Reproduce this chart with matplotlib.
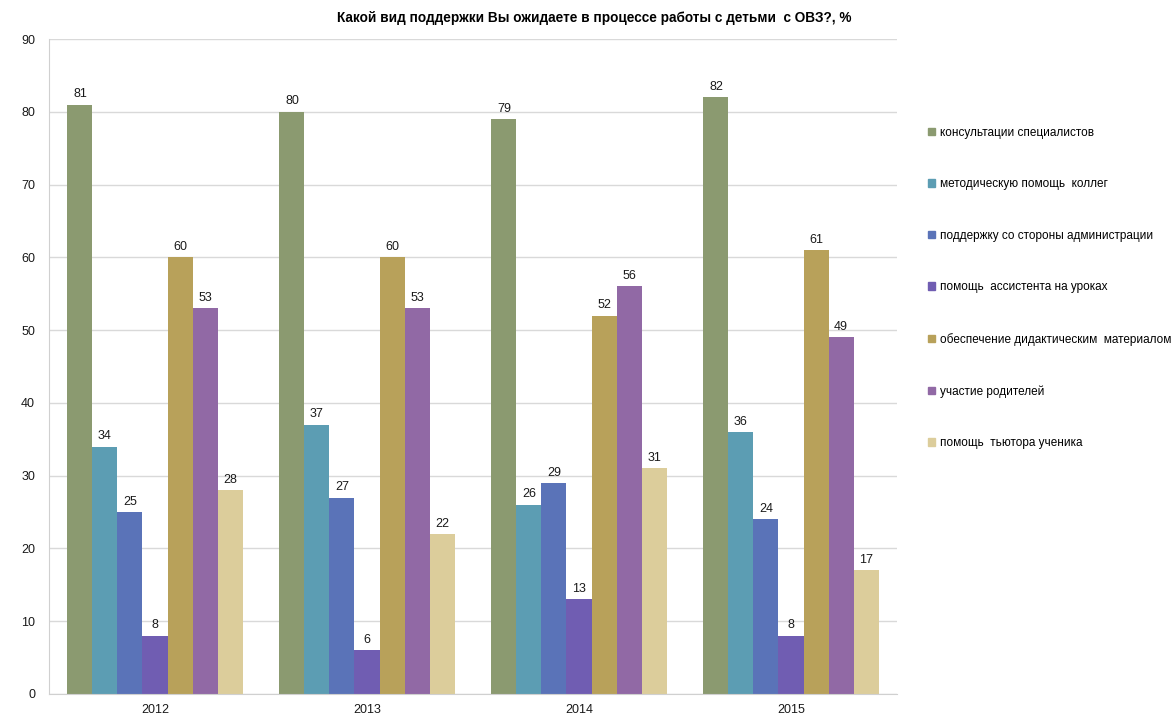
import numpy as np
import matplotlib.pyplot as plt
from matplotlib.patches import Patch

plt.rcParams['font.family'] = ['Liberation Sans', 'DejaVu Sans']

years = ['2012', '2013', '2014', '2015']
labels = ['консультации специалистов',
          'методическую помощь  коллег',
          'поддержку со стороны администрации',
          'помощь  ассистента на уроках',
          'обеспечение дидактическим  материалом',
          'участие родителей',
          'помощь  тьютора ученика']
values = [
    [81, 80, 79, 82],
    [34, 37, 26, 36],
    [25, 27, 29, 24],
    [8, 6, 13, 8],
    [60, 60, 52, 61],
    [53, 53, 56, 49],
    [28, 22, 31, 17],
]
colors = ['#8B9A70', '#5C9DB3', '#5A73B8', '#705DB2', '#B8A15A', '#9169A5', '#DCCD9B']

fig = plt.figure(figsize=(11.73, 7.15), dpi=100)
ax = fig.add_axes([49/1173, 21/715, 848/1173, 655/715])

x = np.arange(len(years))
w = 0.118
for i, (lab, vals, c) in enumerate(zip(labels, values, colors)):
    pos = x + (i - 3) * w
    bars = ax.bar(pos, vals, w, color=c, label=lab)
    for b, v in zip(bars, vals):
        ax.text(b.get_x() + b.get_width() / 2, v + 0.6, str(v),
                ha='center', va='bottom', fontsize=9, color='#1a1a1a')

ax.set_xlim(-0.5, 3.5)
ax.set_ylim(0, 90)
ax.set_yticks(range(0, 91, 10))
ax.set_xticks(x)
ax.set_xticklabels(years)
ax.tick_params(axis='both', labelsize=9, length=0, colors='#1a1a1a')
ax.tick_params(axis='y', pad=10)
ax.tick_params(axis='x', pad=7)
ax.yaxis.grid(True, color='#D9D9D9', linewidth=1)
ax.set_axisbelow(True)
for s in ['top', 'right']:
    ax.spines[s].set_visible(False)
ax.spines['left'].set_color('#D0D0D0')
ax.spines['bottom'].set_color('#D0D0D0')

fig.text(0.507, 0.975, 'Какой вид поддержки Вы ожидаете в процессе работы с детьми  с ОВЗ?, %',
         ha='center', va='center', fontsize=9.8, fontweight='bold')

handles = [Patch(color=c) for c in colors]
fig.legend(handles, labels, loc='upper left', bbox_to_anchor=(917/1173, 1 - 116/715),
           frameon=False, fontsize=8.5, labelspacing=3.35, handlelength=0.6,
           handleheight=0.6, handletextpad=0.45)

fig.savefig('out.png', dpi=100)
